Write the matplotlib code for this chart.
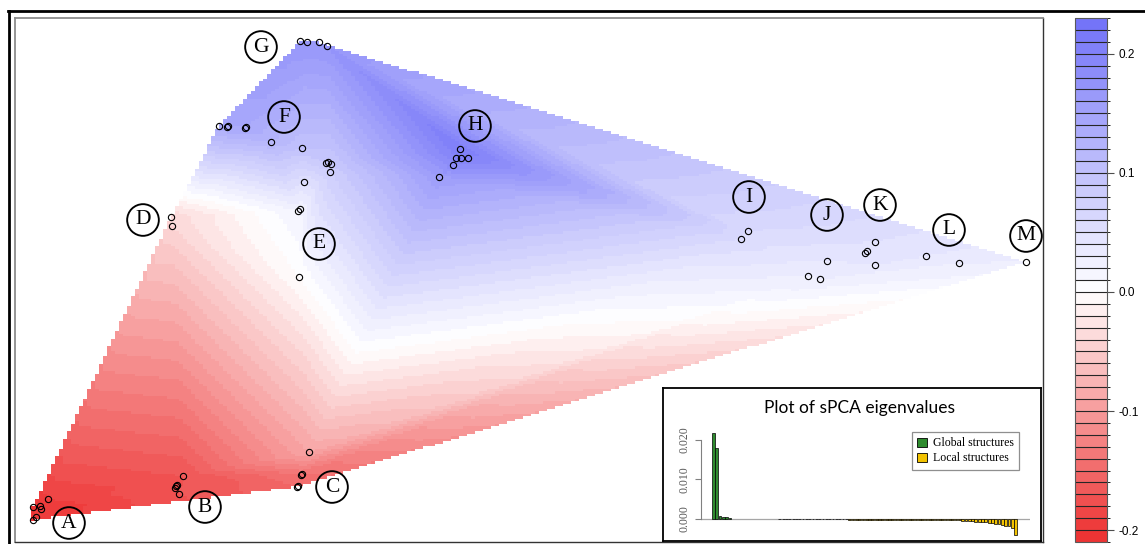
import numpy as np
import matplotlib
matplotlib.use('Agg')
import matplotlib.pyplot as plt
import matplotlib.tri as mtri
from matplotlib.colors import LinearSegmentedColormap, BoundaryNorm
from matplotlib.cm import ScalarMappable
from matplotlib.lines import Line2D
from matplotlib.patches import Patch

plt.rcParams['axes.unicode_minus'] = False

# sampling sites (map units) and their lagged sPCA scores, by cluster
site_x = [1.8, 2.5, 2.6, 3.3, 1.8, 2.1,                 # A
          16.8, 16.1, 16.0, 16.4, 16.2,                 # B
          29.4, 28.6, 28.7, 28.2, 28.3,                 # C
          15.6, 15.7,                                   # D
          20.4, 21.2, 21.3, 23.0, 23.1, 25.6,           # F
          28.5, 29.2, 30.4, 31.2,                       # G
          28.7, 31.1, 31.3, 31.6, 31.5, 28.9, 28.3, 28.5, 28.4,  # E
          44.5, 44.1, 44.6, 45.3, 43.8, 42.4,           # H
          72.6, 73.3,                                   # I
          81.2, 79.3, 80.5,                             # J
          86.0, 85.0, 85.2, 86.0,                       # K
          91.1, 94.4,                                   # L
          101.1]                                        # M
site_y = [3.5, 3.6, 3.3, 4.3, 2.2, 2.5,
          6.6, 5.6, 5.4, 4.8, 5.7,
          9.0, 6.7, 6.8, 5.5, 5.6,
          32.5, 31.6,
          41.6, 41.5, 41.6, 41.4, 41.5, 40.0,
          50.1, 50.0, 50.0, 49.6,
          39.4, 37.9, 38.0, 37.8, 37.0, 36.0, 33.1, 33.3, 26.5,
          39.3, 38.4, 38.4, 38.4, 37.7, 36.5,
          30.3, 31.1,
          28.1, 26.6, 26.3,
          30.0, 28.9, 29.1, 27.7,
          28.6, 27.9,
          28.0]
site_score = [-0.20, -0.20, -0.20, -0.19, -0.20, -0.20,
              -0.17, -0.17, -0.17, -0.17, -0.17,
              -0.09, -0.14, -0.14, -0.15, -0.15,
              -0.04, -0.04,
              0.14, 0.14, 0.14, 0.14, 0.14, 0.12,
              0.17, 0.17, 0.17, 0.17,
              0.10, 0.09, 0.09, 0.09, 0.08, 0.05, 0.02, 0.02, 0.00,
              0.21, 0.20, 0.21, 0.20, 0.19, 0.16,
              0.06, 0.06,
              0.04, 0.03, 0.03,
              0.05, 0.05, 0.05, 0.04,
              0.04, 0.03,
              0.03]

group_names = ['A', 'B', 'C', 'D', 'E', 'F', 'G', 'H', 'I', 'J', 'K', 'L', 'M']
group_x = [5.4, 19.0, 31.7, 12.8, 30.4, 26.9, 24.6, 46.0, 73.4, 81.2, 86.5, 93.4, 101.1]
group_y = [1.9, 3.5, 5.5, 32.2, 29.8, 42.5, 49.5, 41.6, 34.5, 32.7, 33.7, 31.2, 30.6]

# sPCA eigenvalues (positive = global, negative = local)
eig_global = [0.0218, 0.0181, 0.0008, 0.0006, 0.0004, 0.0002]
eig_null = [0.0, 0.0, 0.0, 0.0, 0.0, 0.0, 0.0, 0.0, 0.0, 0.0, 0.0, 0.0, 0.0, 0.0]
eig_local = [-0.00006, -0.00006, -0.00007, -0.00007, -0.00007, -0.00008, -0.00008,
             -0.00008, -0.00009, -0.00009, -0.00009, -0.0001, -0.0001, -0.0001,
             -0.0001, -0.00011, -0.00011, -0.00011, -0.00012, -0.00012, -0.00012,
             -0.00013, -0.00013, -0.00013, -0.00014, -0.00014, -0.00014, -0.00015,
             -0.00015, -0.00015, -0.00016, -0.00016, -0.00016, -0.00017, -0.00017,
             -0.00017, -0.00018, -0.00018, -0.00018, -0.00019, -0.00019, -0.0002,
             -0.0002, -0.0002, -0.00021,
             -0.00026, -0.00028, -0.0003, -0.0003, -0.00031, -0.00032, -0.00033,
             -0.00034, -0.00035, -0.00036,
             -0.00045, -0.0005, -0.00052, -0.00055,
             -0.00075, -0.0008, -0.00082, -0.00085, -0.0009, -0.00095,
             -0.0012, -0.0013,
             -0.0016, -0.0017, -0.0019,
             -0.0024,
             -0.0040]

W, H = 1145, 544


def px_box(x0, y0, x1, y1):
    return [x0 / W, 1 - y1 / H, (x1 - x0) / W, (y1 - y0) / H]


levels = np.arange(-0.21, 0.2301, 0.01)
cmap = LinearSegmentedColormap.from_list(
    'rwb', [(0.0, '#ED3434'), (0.21 / 0.44, '#FFFFFF'), (1.0, '#7474F8')])
norm = BoundaryNorm(levels, cmap.N)

fig = plt.figure(figsize=(W / 100, H / 100), dpi=100)

# --- interpolated map ---
ax = fig.add_axes(px_box(15, 18, 1043, 542))
tri = mtri.Triangulation(site_x, site_y)
interp = mtri.LinearTriInterpolator(tri, site_score)
gx = np.arange(min(site_x), max(site_x), 0.4)
gy = np.arange(min(site_y), max(site_y), 0.25)
GX, GY = np.meshgrid(gx, gy)
Z = interp(GX, GY)
ax.pcolormesh(GX, GY, Z, cmap=cmap, norm=norm, shading='nearest',
              rasterized=True, zorder=1)
ax.plot(site_x, site_y, 'o', ls='none', mfc='none', mec='black',
        ms=4.5, mew=0.8, zorder=3)
ax.scatter(group_x, group_y, s=520, facecolors='none', edgecolors='black',
           linewidths=1.35, zorder=4)
for name, x, y in zip(group_names, group_x, group_y):
    ax.text(x, y, name, ha='center', va='center', fontsize=15.5,
            family='Liberation Serif', zorder=5)
ax.set_xlim(0, 102.8)
ax.set_ylim(0, 52.4)
ax.set_xticks([])
ax.set_yticks([])
for side in ['left', 'top']:
    ax.spines[side].set_color('0.55')
    ax.spines[side].set_linewidth(1.3)
for side in ['right', 'bottom']:
    ax.spines[side].set_color('0.2')
    ax.spines[side].set_linewidth(1.0)

# --- colour legend ---
cax = fig.add_axes(px_box(1075, 18, 1107, 542))
cb = fig.colorbar(ScalarMappable(norm=norm, cmap=cmap), cax=cax,
                  drawedges=True, ticks=[-0.2, -0.1, 0.0, 0.1, 0.2])
cb.set_ticklabels(['-0.2', '-0.1', '0.0', '0.1', '0.2'])
cb.dividers.set_color('0.15')
cb.dividers.set_linewidth(0.8)
cb.outline.set_edgecolor('0.35')
cb.outline.set_linewidth(0.8)
cax.tick_params(labelsize=8.5, length=5, width=0.8, color='0.3', pad=3)
for t in cax.get_yticklabels():
    t.set_family('Liberation Sans')

# --- eigenvalue inset ---
box = fig.add_axes(px_box(663, 388, 1041, 541))
box.set_xticks([])
box.set_yticks([])
box.set_facecolor('white')
for s in box.spines.values():
    s.set_color('black')
    s.set_linewidth(1.3)
box.set_zorder(10)
box.text(0.52, 0.87, 'Plot of sPCA eigenvalues', transform=box.transAxes,
         ha='center', va='center', fontsize=12.5, family='Lato')

eig = eig_global + eig_null + eig_local
bx = fig.add_axes(px_box(701, 428, 1030, 537))
bx.set_zorder(11)
bx.patch.set_alpha(0)
pos = np.arange(len(eig))
vals = np.array(eig)
cols = ['#2E8B2E' if v > 0 else '#F2C200' for v in vals]
keep = vals != 0
bx.bar(pos[keep], vals[keep], width=0.83, color=np.array(cols)[keep],
       edgecolor='black', linewidth=0.5)
bx.axhline(0, color='0.65', lw=0.9, zorder=0)
bx.set_xlim(-3.73, 95.3)
bx.set_ylim(-0.00456, 0.02304)
bx.set_xticks([])
bx.set_yticks([0.0, 0.01, 0.02])
bx.set_yticklabels(['0.000', '0.010', '0.020'], rotation=90, va='center',
                   family='Liberation Serif', fontsize=8.5, color='0.35')
bx.tick_params(axis='y', length=4, color='0.5', width=0.8)
for side in ['top', 'right', 'bottom']:
    bx.spines[side].set_visible(False)
bx.spines['left'].set_bounds(0.0, 0.02)
bx.spines['left'].set_color('0.5')
bx.spines['left'].set_linewidth(0.8)
handles = [Patch(facecolor='#2E8B2E', edgecolor='black', lw=0.6,
                 label='Global structures'),
           Patch(facecolor='#F2C200', edgecolor='black', lw=0.6,
                 label='Local structures')]
leg = bx.legend(handles=handles, loc='upper left',
                bbox_to_anchor=(912 / W, 1 - 432 / H),
                bbox_transform=fig.transFigure, fancybox=False,
                prop={'family': 'Liberation Serif', 'size': 8.5},
                handlelength=0.8, handleheight=0.8, handletextpad=0.5,
                borderpad=0.45, labelspacing=0.25, borderaxespad=0)
leg.get_frame().set_edgecolor('0.45')
leg.get_frame().set_linewidth(0.9)

# screenshot border lines
fig.add_artist(Line2D([8 / W, 1], [1 - 11 / H, 1 - 11 / H], color='black',
                      lw=2.0, transform=fig.transFigure))
fig.add_artist(Line2D([9 / W, 9 / W], [0, 1 - 11 / H], color='black',
                      lw=2.0, transform=fig.transFigure))

fig.savefig('out.png', dpi=100)
